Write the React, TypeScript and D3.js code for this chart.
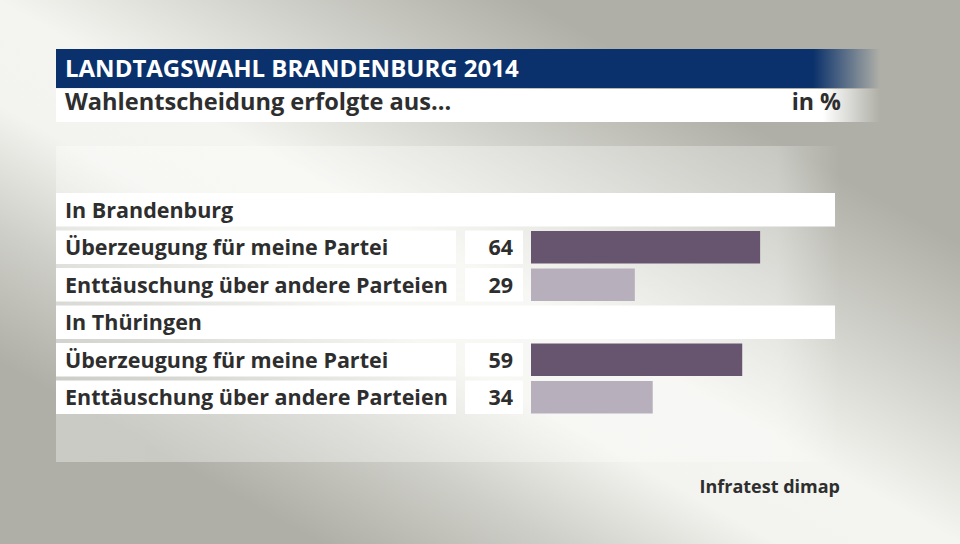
import React from "react";
import * as d3 from "d3";

const titleText = "LANDTAGSWAHL BRANDENBURG 2014";
const subtitleText = "Wahlentscheidung erfolgte aus...";
const unitText = "in %";
const sourceText = "Infratest dimap";

const groups = ["In Brandenburg", "In Thüringen"];
const categories = ["Überzeugung für meine Partei", "Enttäuschung über andere Parteien"];
const brandenburgValues = [64, 29];
const thueringenValues = [59, 34];
const seriesColors = ["#67546f", "#b8afbd"];

type Row =
  | { kind: "header"; label: string }
  | { kind: "bar"; label: string; value: number; color: string };

const groupValues = [brandenburgValues, thueringenValues];
const rows: Row[] = [];
groups.forEach((g, gi) => {
  rows.push({ kind: "header", label: g });
  categories.forEach((c, ci) => {
    rows.push({ kind: "bar", label: c, value: groupValues[gi][ci], color: seriesColors[ci] });
  });
});

const W = 960;
const H = 544;
const FONT = "'Open Sans', 'Noto Sans', sans-serif";
const TEXT = "#2e2e2e";
const ROW_FS = 21.5;

export default function App() {
  const x = d3.scaleLinear().domain([0, 100]).range([531, 889]);
  const y = d3
    .scaleBand<number>()
    .domain(rows.map((_, i) => i))
    .range([193, 414])
    .paddingInner(0.107)
    .paddingOuter(0);
  const bw = y.bandwidth();

  return (
    <svg
      width={W}
      height={H}
      style={{ position: "fixed", left: 0, top: 0, display: "block" }}
      fontFamily={FONT}
    >
      <defs>
        <linearGradient id="bg" gradientUnits="userSpaceOnUse" x1={204} y1={653} x2={645} y2={-130}>
          <stop offset="0" stopColor="#afafa7" />
          <stop offset="0.17" stopColor="#afafa7" />
          <stop offset="0.3" stopColor="#cfcfc9" />
          <stop offset="0.42" stopColor="#f3f4ef" />
          <stop offset="0.52" stopColor="#f4f5f0" />
          <stop offset="0.67" stopColor="#d0d0ca" />
          <stop offset="0.81" stopColor="#afafa7" />
          <stop offset="1" stopColor="#afafa7" />
        </linearGradient>
        <linearGradient id="titleFade" gradientUnits="userSpaceOnUse" x1={56} y1={0} x2={880} y2={0}>
          <stop offset="0" stopColor="#0a316b" stopOpacity={1} />
          <stop offset={(813 - 56) / (880 - 56)} stopColor="#0a316b" stopOpacity={1} />
          <stop offset="1" stopColor="#0a316b" stopOpacity={0} />
        </linearGradient>
        <linearGradient id="subFade" gradientUnits="userSpaceOnUse" x1={56} y1={0} x2={880} y2={0}>
          <stop offset="0" stopColor="#ffffff" stopOpacity={1} />
          <stop offset={(823 - 56) / (880 - 56)} stopColor="#ffffff" stopOpacity={1} />
          <stop offset="1" stopColor="#ffffff" stopOpacity={0} />
        </linearGradient>
        <linearGradient id="panelFade" gradientUnits="userSpaceOnUse" x1={56} y1={0} x2={840} y2={0}>
          <stop offset="0" stopColor="#ffffff" stopOpacity={0.35} />
          <stop offset="0.92" stopColor="#ffffff" stopOpacity={0.3} />
          <stop offset="1" stopColor="#ffffff" stopOpacity={0} />
        </linearGradient>
      </defs>

      <rect x={0} y={0} width={W} height={H} fill="url(#bg)" />
      <rect x={56} y={146} width={784} height={316} fill="url(#panelFade)" />

      <rect x={56} y={49} width={824} height={39} fill="url(#titleFade)" />
      <text x={65} y={77} fill="#ffffff" fontSize={24} fontWeight={700}>
        {titleText}
      </text>
      <rect x={56} y={89} width={824} height={33} fill="url(#subFade)" />
      <text x={65} y={110} fill={TEXT} fontSize={23.6} fontWeight={700}>
        {subtitleText}
      </text>
      <text x={841} y={110} fill={TEXT} fontSize={23.2} fontWeight={700} textAnchor="end">
        {unitText}
      </text>

      {rows.map((r, i) => {
        const top = y(i) as number;
        const base = top + bw / 2 + 8;
        if (r.kind === "header") {
          return (
            <g key={i}>
              <rect x={56} y={top} width={779} height={bw} fill="#ffffff" />
              <text x={65} y={base} fill={TEXT} fontSize={ROW_FS} fontWeight={700}>
                {r.label}
              </text>
            </g>
          );
        }
        return (
          <g key={i}>
            <rect x={56} y={top} width={400} height={bw} fill="#ffffff" />
            <text x={65} y={base} fill={TEXT} fontSize={ROW_FS} fontWeight={700}>
              {r.label}
            </text>
            <rect x={465} y={top} width={58} height={bw} fill="#ffffff" />
            <text x={513} y={base} fill={TEXT} fontSize={ROW_FS} fontWeight={700} textAnchor="end">
              {r.value}
            </text>
            <rect x={x(0)} y={top + 0.5} width={x(r.value) - x(0)} height={bw - 1} fill={r.color} />
          </g>
        );
      })}

      <text x={840} y={493} fill={TEXT} fontSize={18} fontWeight={700} textAnchor="end">
        {sourceText}
      </text>
    </svg>
  );
}
